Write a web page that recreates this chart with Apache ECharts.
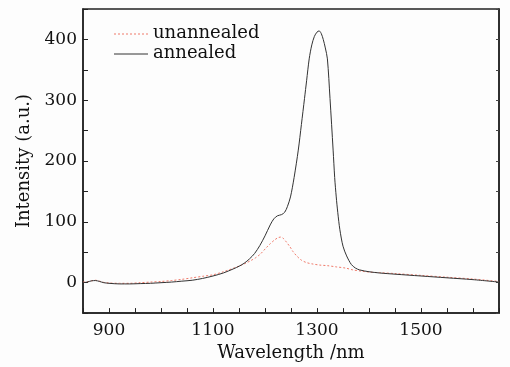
<!DOCTYPE html>
<html>
<head>
<meta charset="utf-8">
<script src="https://cdn.jsdelivr.net/npm/echarts@6/dist/echarts.min.js"></script>
<style>
html,body{margin:0;padding:0;background:#fdfdfd;}
#chart{width:510px;height:367px;}
</style>
</head>
<body>
<div id="chart"></div>
<script>
// Wavelength (nm) / intensity (a.u.) pairs
const seriesNames = ['unannealed', 'annealed'];
const xTickLabels = [900, 1100, 1300, 1500];
const yTickLabels = [0, 100, 200, 300, 400];

const unannealed = [
  [850,1],[858,1.5],[866,3],[874,4],[882,2.5],[890,0.5],[900,-0.5],[920,-1],[940,-1],[960,0],
  [980,1],[1000,2],[1020,3.5],[1040,5.5],[1060,8],[1080,10.5],[1100,13],[1120,18],[1140,24],
  [1152,28],[1165,33],[1172,36],[1182,41],[1191,47],[1203,58],[1210,64],[1218,70],[1225,74],
  [1230,75],[1235,73],[1241,67],[1248,59],[1254,51],[1261,44],[1270,37],[1280,33],[1290,31],
  [1305,29],[1320,28],[1337,26],[1355,24],[1369,21],[1385,19],[1400,17.5],[1420,16.5],
  [1450,15],[1500,12],[1550,9],[1600,6],[1650,2]
];

const annealed = [
  [850,0],[858,1],[866,3],[874,3.5],[882,2],[890,0],[900,-1],[920,-2],[940,-2],[960,-1.5],
  [980,-1],[1000,0],[1020,1],[1040,2.5],[1060,4],[1080,7],[1100,11],[1120,16],[1140,23],
  [1150,27],[1160,32],[1170,39],[1180,48],[1190,61],[1200,77],[1210,95],[1217,105],[1224,110],
  [1232,112],[1238,116],[1243,125],[1249,141],[1256,173],[1264,218],[1270,260],[1276,303],
  [1280,332],[1285,368],[1290,391],[1295,405],[1300,412],[1304,414],[1308,410],[1312,400],
  [1316,386],[1320,368],[1325,303],[1331,218],[1334,173],[1337,141],[1340,115],[1344,87],
  [1350,60],[1357,44],[1366,30],[1374,24],[1382,21],[1400,18],[1420,16],[1450,14],[1500,11],
  [1550,8],[1600,5],[1650,1]
];

const FONT = 'DejaVu Serif';
const RED = '#f07a6a', BLACK = '#333';
const chart = echarts.init(document.getElementById('chart'));
const axisLine = {show: true, onZero: false, lineStyle: {color: '#222', width: 1.5}};
chart.setOption({
  backgroundColor: '#fdfdfd',
  animation: false,
  grid: {left: 83, right: 11, top: 9, bottom: 48, show: true, borderColor: '#222', borderWidth: 1.5},
  graphic: [
    {type: 'line', shape: {x1: 114, y1: 34, x2: 148, y2: 34},
     style: {stroke: RED, lineWidth: 1, lineDash: [2, 2]}},
    {type: 'text', x: 153, y: 33,
     style: {text: seriesNames[0], font: '18px "DejaVu Serif"', fill: '#111', verticalAlign: 'middle'}},
    {type: 'line', shape: {x1: 114, y1: 54, x2: 148, y2: 54},
     style: {stroke: BLACK, lineWidth: 1}},
    {type: 'text', x: 153, y: 53,
     style: {text: seriesNames[1], font: '18px "DejaVu Serif"', fill: '#111', verticalAlign: 'middle'}}
  ],
  xAxis: [{
    type: 'value', min: 850, max: 1650, interval: 50,
    name: 'Wavelength /nm', nameLocation: 'middle', nameGap: 25,
    nameTextStyle: {fontFamily: FONT, fontSize: 18, color: '#111'},
    axisLine: axisLine,
    axisTick: {show: true, inside: true, length: 5, lineStyle: {color: '#222', width: 1}},
    axisLabel: {
      fontFamily: FONT, fontSize: 17, color: '#111', margin: 9,
      formatter: v => xTickLabels.includes(v) ? String(v) : ''
    },
    splitLine: {show: false}
  }],
  yAxis: [{
    type: 'value', min: -50, max: 450, interval: 50,
    name: 'Intensity (a.u.)', nameLocation: 'middle', nameGap: 50,
    nameTextStyle: {fontFamily: FONT, fontSize: 18, color: '#111'},
    axisLine: axisLine,
    axisTick: {show: true, inside: true, length: 5, lineStyle: {color: '#222', width: 1}},
    axisLabel: {
      fontFamily: FONT, fontSize: 17, color: '#111', margin: 6,
      formatter: v => yTickLabels.includes(v) ? String(v) : ''
    },
    splitLine: {show: false}
  }, {
    type: 'value', position: 'right', min: -50, max: 450, interval: 50,
    axisLine: axisLine,
    axisTick: {show: true, inside: true, length: 3, lineStyle: {color: '#444', width: 1}},
    axisLabel: {show: false},
    splitLine: {show: false}
  }],
  series: [{
    name: seriesNames[0], type: 'line', data: unannealed, smooth: 0.3,
    showSymbol: false, symbol: 'none',
    lineStyle: {color: RED, width: 1, type: [2, 2]},
    itemStyle: {color: RED}, z: 2
  }, {
    name: seriesNames[1], type: 'line', data: annealed, smooth: 0.3,
    showSymbol: false, symbol: 'none',
    lineStyle: {color: BLACK, width: 1},
    itemStyle: {color: BLACK}, z: 3
  }]
});
</script>
</body>
</html>
